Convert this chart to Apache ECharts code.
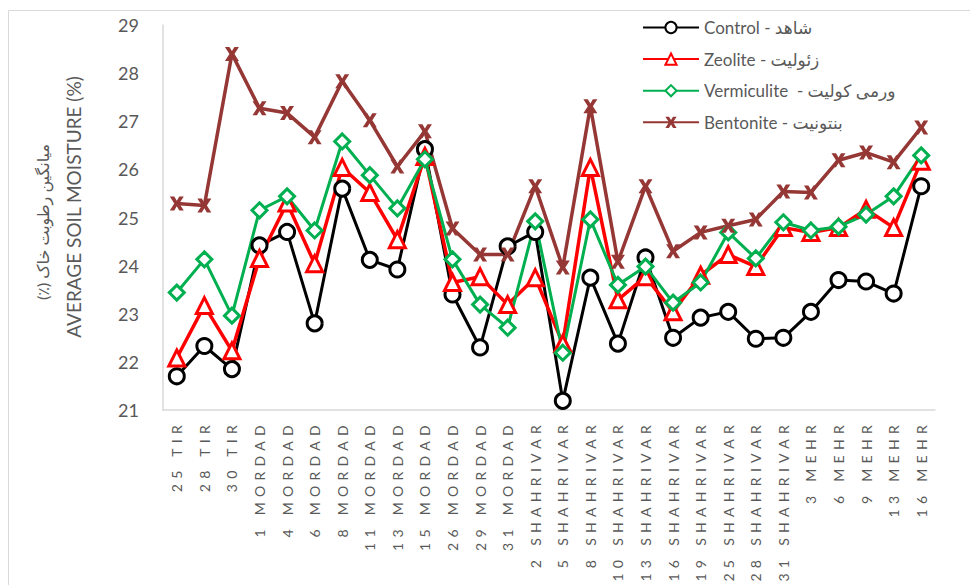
<!DOCTYPE html>
<html>
<head>
<meta charset="utf-8">
<script src="https://cdn.jsdelivr.net/npm/echarts@6/dist/echarts.min.js"></script>
<style>
html,body{margin:0;padding:0;background:#fff;}
#chart{width:970px;height:585px;}
</style>
</head>
<body>
<div id="chart"></div>
<script>
const categories = ["25 TIR","28 TIR","30 TIR","1 MORDAD","4 MORDAD","6 MORDAD","8 MORDAD","11 MORDAD","13 MORDAD","15 MORDAD","26 MORDAD","29 MORDAD","31 MORDAD","2 SHAHRIVAR","5 SHAHRIVAR","8 SHAHRIVAR","10 SHAHRIVAR","13 SHAHRIVAR","16 SHAHRIVAR","19 SHAHRIVAR","25 SHAHRIVAR","28 SHAHRIVAR","31 SHAHRIVAR","3 MEHR","6 MEHR","9 MEHR","13 MEHR","16 MEHR"];
const control = [21.7,22.33,21.85,24.42,24.7,22.8,25.6,24.12,23.92,26.42,23.4,22.3,24.4,24.7,21.19,23.75,22.38,24.17,22.5,22.92,23.04,22.48,22.5,23.04,23.7,23.67,23.42,25.65];
const zeolite = [22.08,23.17,22.23,24.15,25.3,24.04,26.04,25.52,24.54,26.27,23.65,23.77,23.19,23.75,22.38,26.04,23.29,23.77,23.04,23.8,24.23,23.98,24.79,24.69,24.79,25.17,24.79,26.17];
const vermiculite = [23.44,24.13,22.96,25.15,25.44,24.73,26.58,25.88,25.19,26.21,24.13,23.19,22.71,24.92,22.19,24.96,23.6,23.98,23.23,23.65,24.69,24.15,24.9,24.73,24.81,25.06,25.44,26.29];
const bentonite = [25.29,25.25,28.4,27.27,27.17,26.67,27.83,27.02,26.06,26.79,24.77,24.23,24.23,25.65,23.96,27.31,24.08,25.65,24.3,24.69,24.83,24.96,25.54,25.52,26.19,26.35,26.15,26.87];
const seriesNames = ["Control - شاهد","Zeolite - زئولیت","Vermiculite  - ورمی کولیت","Bentonite - بنتونیت"];
const yTicks = [21,22,23,24,25,26,27,28,29];

const FONT = 'Lato, "DejaVu Sans", sans-serif';
const xMark = 'path://M0,0 L3.2,0 L5,3 L6.8,0 L10,0 L6.8,5 L10,10 L6.8,10 L5,7 L3.2,10 L0,10 L3.2,5 Z';

const chart = echarts.init(document.getElementById('chart'), null, {renderer:'svg'});
function mk(name, data, color, symbol, size, lw, fill){
  return {
    name, type:'line', data,
    symbol, symbolSize:size, showAllSymbol:true,
    lineStyle:{color, width:lw},
    itemStyle:{color:fill, borderColor:color, borderWidth: symbol.startsWith('path')?0:3},
    emphasis:{disabled:true},
    z: 2
  };
}
const option = {
  animation:false,
  textStyle:{fontFamily:FONT},
  grid:{left:163, right:35, top:25, bottom:175, containLabel:false},
  legend:{
    orient:'vertical', left:637, top:14,
    itemWidth:56, itemHeight:14, itemGap:14.6,
    textStyle:{fontSize:17, color:'#595959', fontFamily:FONT},
    data: seriesNames
  },
  xAxis:{
    type:'category', data:categories, boundaryGap:true,
    axisLine:{lineStyle:{color:'#d9d9d9', width:1.5}},
    axisTick:{show:false},
    axisLabel:{rotate:90, interval:0, fontSize:14, color:'#595959', margin:10, fontFamily:FONT}
  },
  yAxis:{
    type:'value', min:yTicks[0], max:yTicks[yTicks.length-1], interval:1,
    splitLine:{show:false},
    axisLine:{show:true, lineStyle:{color:'#d9d9d9', width:1.5}},
    axisTick:{show:false},
    axisLabel:{fontSize:18, color:'#595959', margin:24, fontFamily:FONT}
  },
  graphic:[
    {type:'rect', shape:{x:8.5, y:10.5, width:1200, height:1200}, style:{fill:null, stroke:'#d9d9d9', lineWidth:1}, silent:true, z:-1},
    {type:'text', x:73, y:207, rotation:Math.PI/2, style:{text:'AVERAGE SOIL MOISTURE (%)', font:'19px ' + FONT, fill:'#595959', align:'center', verticalAlign:'middle'}},
    {type:'text', x:42, y:222, rotation:Math.PI/2, style:{text:'\u202Bمیانگین رطوبت خاک (٪)\u202C', font:'16px ' + FONT, fill:'#595959', align:'center', verticalAlign:'middle'}}
  ],
  series:[
    mk(seriesNames[0], control, '#000000', 'circle', 15, 3, '#ffffff'),
    mk(seriesNames[1], zeolite, '#ff0000', 'triangle', 16, 3.5, '#ffffff'),
    mk(seriesNames[2], vermiculite, '#00b050', 'diamond', 15, 3, '#ffffff'),
    mk(seriesNames[3], bentonite, '#953735', xMark, 14, 3.5, '#953735')
  ]
};
chart.setOption(option);
// widen letter spacing of category labels like the original
const catSet = new Set(categories);
document.querySelectorAll('#chart text').forEach(t=>{
  if (catSet.has(t.textContent)) t.style.letterSpacing = '5.3px';
});
</script>
</body>
</html>
